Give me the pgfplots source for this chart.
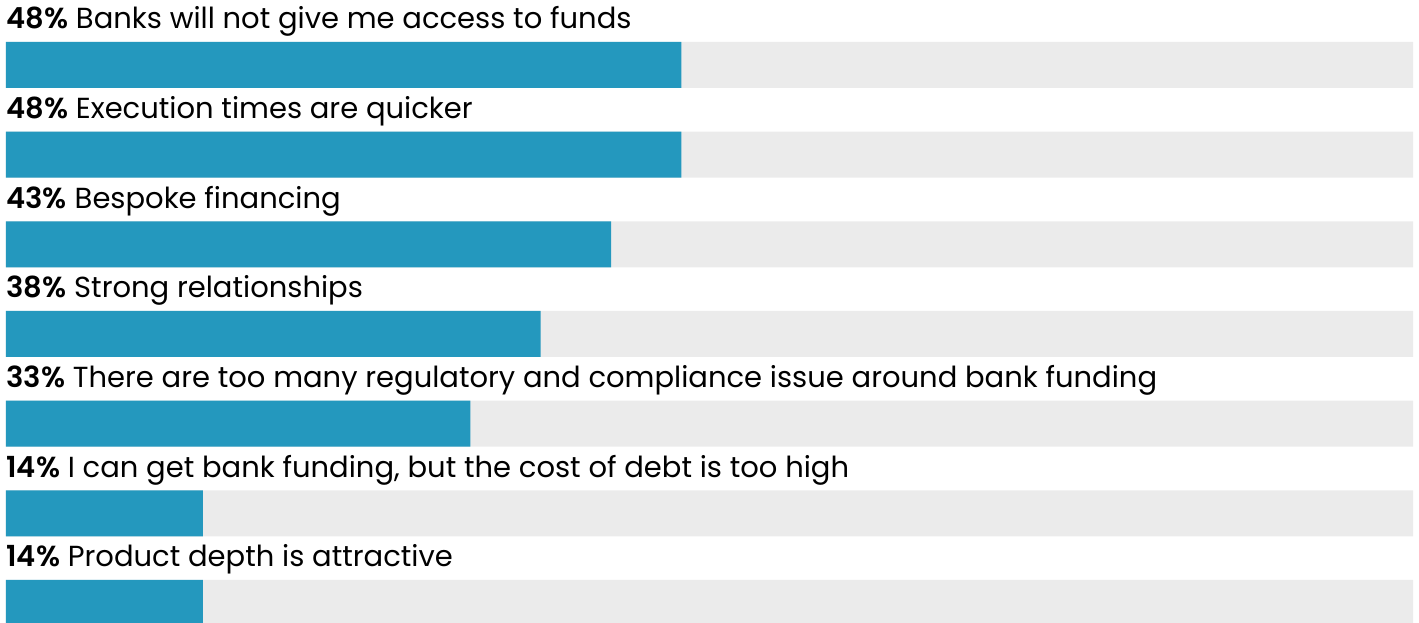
\documentclass[border=0pt]{standalone}
\usepackage{fontspec}
\setmainfont{Poppins}[BoldFont={Poppins SemiBold}]
\usepackage{pgfplots}
\pgfplotsset{compat=1.18}
\definecolor{barblue}{RGB}{36,152,190}
\definecolor{bargrey}{RGB}{235,235,235}
\begin{document}
\begin{tikzpicture}
\begin{axis}[
  scale only axis,
  width=709.5pt, height=311.5pt,
  xmin=-0.4264, xmax=100.4264,
  ymin=-0.7249, ymax=6.2230,
  y dir=reverse,
  axis lines=none,
  xbar, bar width=23pt, bar shift=0pt,
  clip=true,
]
\addplot[fill=bargrey, draw=none] coordinates {(100,0) (100,1) (100,2) (100,3) (100,4) (100,5) (100,6)};
\addplot[fill=barblue, draw=none] coordinates {(48,0) (48,1) (43,2) (38,3) (33,4) (14,5) (14,6)};
\tikzset{lab/.style={anchor=base west, inner sep=0pt, font=\fontsize{14.5}{17}\selectfont}}
\node[lab] at (axis cs:0,-0.4015) {\textbf{48\%} Banks will not give me access to funds};
\node[lab] at (axis cs:0,0.5985) {\textbf{48\%} Execution times are quicker};
\node[lab] at (axis cs:0,1.5985) {\textbf{43\%} Bespoke financing};
\node[lab] at (axis cs:0,2.5985) {\textbf{38\%} Strong relationships};
\node[lab] at (axis cs:0,3.5985) {\textbf{33\%} There are too many regulatory and compliance issue around bank funding};
\node[lab] at (axis cs:0,4.5985) {\textbf{14\%} I can get bank funding, but the cost of debt is too high};
\node[lab] at (axis cs:0,5.5985) {\textbf{14\%} Product depth is attractive};
\end{axis}
\path (current axis.south west) rectangle (current axis.north east);
\end{tikzpicture}
\end{document}
